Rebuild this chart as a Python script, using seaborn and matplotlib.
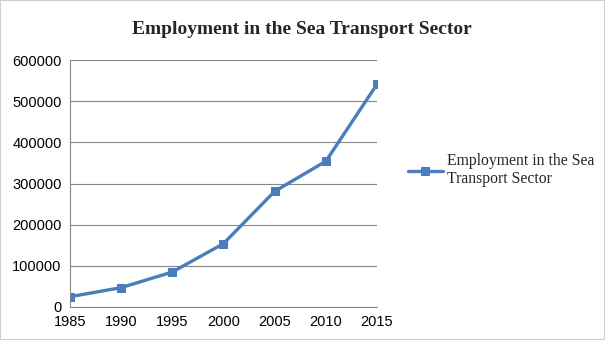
import matplotlib
matplotlib.use("Agg")
import matplotlib.pyplot as plt
import seaborn as sns
import pandas as pd

years = [1985, 1990, 1995, 2000, 2005, 2010, 2015]
employment = [25000, 47000, 85000, 154000, 281000, 354000, 541000]
series_name = "Employment in the Sea Transport Sector"
title = "Employment in the Sea Transport Sector"

df = pd.DataFrame({"Year": years, "Employment": employment, "Series": series_name})

sns.set_theme(style="white")
plt.rcParams['font.family'] = ['Liberation Sans', 'DejaVu Sans']

fig = plt.figure(figsize=(6.05, 3.4), dpi=100)
ax = fig.add_axes([70/605, 33/340, (377-70)/605, (307-60)/340])

color = "#4A7EBB"
sns.lineplot(data=df, x="Year", y="Employment", hue="Series", palette=[color],
             marker="s", markersize=6, markeredgecolor=color, linewidth=2.4, ax=ax)

ax.set_xlim(1985, 2015)
ax.set_ylim(0, 600000)
ax.set_xticks(years)
ax.set_xticklabels([str(y) for y in years])
ax.set_yticks(range(0, 600001, 100000))
ax.set_yticklabels([str(v) for v in range(0, 600001, 100000)])
ax.grid(axis="y", color="#888888", linewidth=0.8)
ax.set_axisbelow(True)
for s in ["top", "right"]:
    ax.spines[s].set_visible(False)
for s in ["left", "bottom"]:
    ax.spines[s].set_color("#888888")
    ax.spines[s].set_linewidth(0.8)
ax.tick_params(axis="both", length=4, width=0.8, color="#888888", labelsize=10.5,
               labelcolor="black", pad=2, direction="out")
ax.set_xlabel("")
ax.set_ylabel("")

fig.text(302/605, 1 - 29/340, title, ha="center", va="center",
         fontsize=14, fontweight="bold", family=["Liberation Serif", "DejaVu Serif"])

handles, labels = ax.get_legend_handles_labels()
ax.legend(handles, ["Employment in the Sea\nTransport Sector"], loc="center left",
          bbox_to_anchor=(408/605, 1 - 170/340), bbox_transform=fig.transFigure,
          frameon=False, prop={"family": "Liberation Serif", "size": 11.3},
          handlelength=2.2, handletextpad=0.3, borderaxespad=0, borderpad=0,
          labelspacing=0)

fig.patches.append(matplotlib.patches.Rectangle((0, 0), 1, 1, transform=fig.transFigure,
                   fill=False, edgecolor="#d0d0d0", linewidth=1.5))

fig.savefig("out.png", dpi=100)
